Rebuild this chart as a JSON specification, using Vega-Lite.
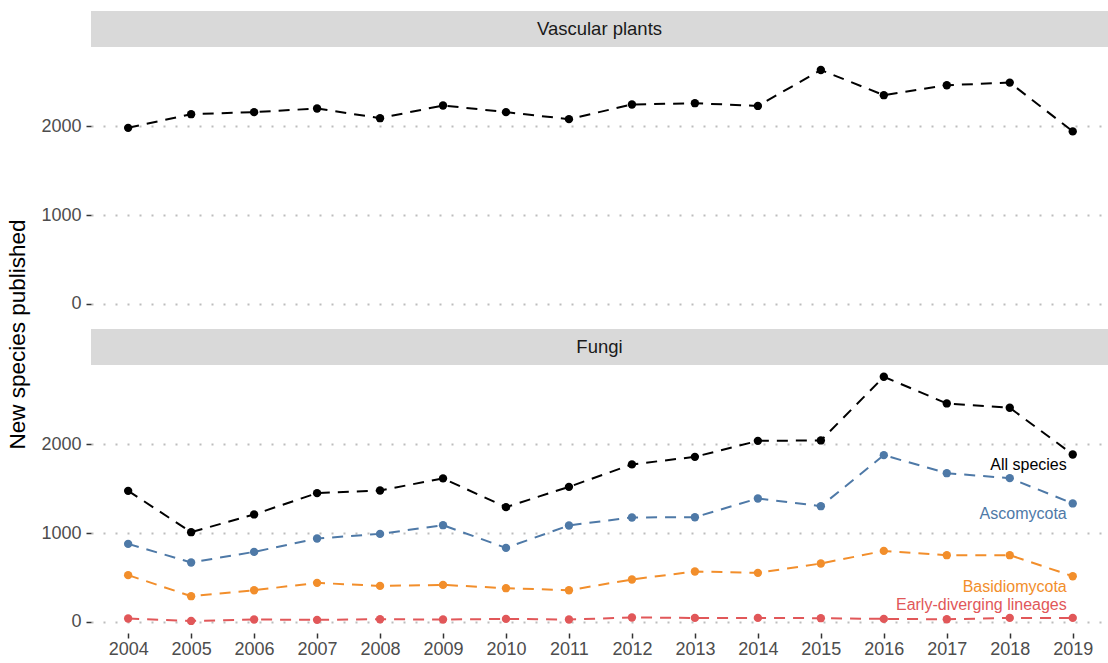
{
  "$schema": "https://vega.github.io/schema/vega-lite/v6.json",
  "padding": {"left": 7, "top": 11, "right": 0, "bottom": 0},
  "background": "white",
  "config": {
    "font": "Liberation Sans",
    "view": {"stroke": null},
    "axis": {"labelFont": "Liberation Sans"}
  },
  "title": {"text": "New species published", "orient": "left", "anchor": "middle", "fontSize": 22.5, "fontWeight": "normal", "color": "#000000", "font": "Liberation Sans", "offset": 11},
  "data": {"values": [
    {"panel": "Vascular plants", "series": "All species", "year": 2004, "value": 1984},
    {"panel": "Vascular plants", "series": "All species", "year": 2005, "value": 2138},
    {"panel": "Vascular plants", "series": "All species", "year": 2006, "value": 2161},
    {"panel": "Vascular plants", "series": "All species", "year": 2007, "value": 2202},
    {"panel": "Vascular plants", "series": "All species", "year": 2008, "value": 2093},
    {"panel": "Vascular plants", "series": "All species", "year": 2009, "value": 2236},
    {"panel": "Vascular plants", "series": "All species", "year": 2010, "value": 2161},
    {"panel": "Vascular plants", "series": "All species", "year": 2011, "value": 2082},
    {"panel": "Vascular plants", "series": "All species", "year": 2012, "value": 2247},
    {"panel": "Vascular plants", "series": "All species", "year": 2013, "value": 2262},
    {"panel": "Vascular plants", "series": "All species", "year": 2014, "value": 2231},
    {"panel": "Vascular plants", "series": "All species", "year": 2015, "value": 2636},
    {"panel": "Vascular plants", "series": "All species", "year": 2016, "value": 2352},
    {"panel": "Vascular plants", "series": "All species", "year": 2017, "value": 2464},
    {"panel": "Vascular plants", "series": "All species", "year": 2018, "value": 2494},
    {"panel": "Vascular plants", "series": "All species", "year": 2019, "value": 1944},
    {"panel": "Fungi", "series": "All species", "year": 2004, "value": 1477},
    {"panel": "Fungi", "series": "All species", "year": 2005, "value": 1011},
    {"panel": "Fungi", "series": "All species", "year": 2006, "value": 1211},
    {"panel": "Fungi", "series": "All species", "year": 2007, "value": 1451},
    {"panel": "Fungi", "series": "All species", "year": 2008, "value": 1481},
    {"panel": "Fungi", "series": "All species", "year": 2009, "value": 1617},
    {"panel": "Fungi", "series": "All species", "year": 2010, "value": 1293},
    {"panel": "Fungi", "series": "All species", "year": 2011, "value": 1522},
    {"panel": "Fungi", "series": "All species", "year": 2012, "value": 1775},
    {"panel": "Fungi", "series": "All species", "year": 2013, "value": 1860},
    {"panel": "Fungi", "series": "All species", "year": 2014, "value": 2040},
    {"panel": "Fungi", "series": "All species", "year": 2015, "value": 2045},
    {"panel": "Fungi", "series": "All species", "year": 2016, "value": 2762},
    {"panel": "Fungi", "series": "All species", "year": 2017, "value": 2462},
    {"panel": "Fungi", "series": "All species", "year": 2018, "value": 2413},
    {"panel": "Fungi", "series": "All species", "year": 2019, "value": 1887},
    {"panel": "Fungi", "series": "Ascomycota", "year": 2004, "value": 879},
    {"panel": "Fungi", "series": "Ascomycota", "year": 2005, "value": 670},
    {"panel": "Fungi", "series": "Ascomycota", "year": 2006, "value": 789},
    {"panel": "Fungi", "series": "Ascomycota", "year": 2007, "value": 940},
    {"panel": "Fungi", "series": "Ascomycota", "year": 2008, "value": 992},
    {"panel": "Fungi", "series": "Ascomycota", "year": 2009, "value": 1090},
    {"panel": "Fungi", "series": "Ascomycota", "year": 2010, "value": 834},
    {"panel": "Fungi", "series": "Ascomycota", "year": 2011, "value": 1087},
    {"panel": "Fungi", "series": "Ascomycota", "year": 2012, "value": 1177},
    {"panel": "Fungi", "series": "Ascomycota", "year": 2013, "value": 1180},
    {"panel": "Fungi", "series": "Ascomycota", "year": 2014, "value": 1391},
    {"panel": "Fungi", "series": "Ascomycota", "year": 2015, "value": 1304},
    {"panel": "Fungi", "series": "Ascomycota", "year": 2016, "value": 1879},
    {"panel": "Fungi", "series": "Ascomycota", "year": 2017, "value": 1676},
    {"panel": "Fungi", "series": "Ascomycota", "year": 2018, "value": 1620},
    {"panel": "Fungi", "series": "Ascomycota", "year": 2019, "value": 1335},
    {"panel": "Fungi", "series": "Basidiomycota", "year": 2004, "value": 527},
    {"panel": "Fungi", "series": "Basidiomycota", "year": 2005, "value": 290},
    {"panel": "Fungi", "series": "Basidiomycota", "year": 2006, "value": 357},
    {"panel": "Fungi", "series": "Basidiomycota", "year": 2007, "value": 440},
    {"panel": "Fungi", "series": "Basidiomycota", "year": 2008, "value": 406},
    {"panel": "Fungi", "series": "Basidiomycota", "year": 2009, "value": 417},
    {"panel": "Fungi", "series": "Basidiomycota", "year": 2010, "value": 380},
    {"panel": "Fungi", "series": "Basidiomycota", "year": 2011, "value": 357},
    {"panel": "Fungi", "series": "Basidiomycota", "year": 2012, "value": 478},
    {"panel": "Fungi", "series": "Basidiomycota", "year": 2013, "value": 568},
    {"panel": "Fungi", "series": "Basidiomycota", "year": 2014, "value": 553},
    {"panel": "Fungi", "series": "Basidiomycota", "year": 2015, "value": 658},
    {"panel": "Fungi", "series": "Basidiomycota", "year": 2016, "value": 800},
    {"panel": "Fungi", "series": "Basidiomycota", "year": 2017, "value": 752},
    {"panel": "Fungi", "series": "Basidiomycota", "year": 2018, "value": 752},
    {"panel": "Fungi", "series": "Basidiomycota", "year": 2019, "value": 515},
    {"panel": "Fungi", "series": "Early-diverging lineages", "year": 2004, "value": 38},
    {"panel": "Fungi", "series": "Early-diverging lineages", "year": 2005, "value": 11},
    {"panel": "Fungi", "series": "Early-diverging lineages", "year": 2006, "value": 27},
    {"panel": "Fungi", "series": "Early-diverging lineages", "year": 2007, "value": 23},
    {"panel": "Fungi", "series": "Early-diverging lineages", "year": 2008, "value": 30},
    {"panel": "Fungi", "series": "Early-diverging lineages", "year": 2009, "value": 27},
    {"panel": "Fungi", "series": "Early-diverging lineages", "year": 2010, "value": 34},
    {"panel": "Fungi", "series": "Early-diverging lineages", "year": 2011, "value": 27},
    {"panel": "Fungi", "series": "Early-diverging lineages", "year": 2012, "value": 50},
    {"panel": "Fungi", "series": "Early-diverging lineages", "year": 2013, "value": 45},
    {"panel": "Fungi", "series": "Early-diverging lineages", "year": 2014, "value": 45},
    {"panel": "Fungi", "series": "Early-diverging lineages", "year": 2015, "value": 42},
    {"panel": "Fungi", "series": "Early-diverging lineages", "year": 2016, "value": 34},
    {"panel": "Fungi", "series": "Early-diverging lineages", "year": 2017, "value": 30},
    {"panel": "Fungi", "series": "Early-diverging lineages", "year": 2018, "value": 45},
    {"panel": "Fungi", "series": "Early-diverging lineages", "year": 2019, "value": 45}
  ]},
  "spacing": 14,
  "vconcat": [
    {
      "spacing": 0,
      "vconcat": [
        {
          "width": 1017, "height": 36,
          "view": {"fill": "#D9D9D9", "stroke": null},
          "data": {"values": [{"label": "Vascular plants"}]},
          "mark": {"type": "text", "fontSize": 18.5, "color": "#1A1A1A", "font": "Liberation Sans", "baseline": "middle", "align": "center"},
          "encoding": {"text": {"field": "label"}}
        },
        {
          "width": 1017, "height": 268,
          "transform": [{"filter": "datum.panel === 'Vascular plants'"}],
          "encoding": {
            "x": {"field": "year", "type": "quantitative", "scale": {"domain": [2003.41, 2019.56], "nice": false, "zero": false}, "axis": null},
            "y": {"field": "value", "type": "quantitative", "scale": {"domain": [-125, 2895], "nice": false, "zero": false},
                  "axis": {"title": null, "values": [0, 1000, 2000], "format": "d", "domain": false, "grid": true, "gridDash": [2, 10], "gridColor": "#BDBDBD", "gridWidth": 2, "tickColor": "#333333", "tickSize": 5, "tickWidth": 1.5, "labelFontSize": 18, "labelColor": "#4D4D4D", "labelPadding": 5}},
            "color": {"field": "series", "type": "nominal", "legend": null,
                      "scale": {"domain": ["All species", "Ascomycota", "Basidiomycota", "Early-diverging lineages"], "range": ["#000000", "#4E79A7", "#F28E2B", "#E15759"]}}
          },
          "layer": [
            {"mark": {"type": "line", "strokeDash": [11, 8], "strokeWidth": 2}},
            {"mark": {"type": "point", "filled": true, "opacity": 1, "size": 70}}
          ]
        }
      ]
    },
    {
      "spacing": 0,
      "vconcat": [
        {
          "width": 1017, "height": 36,
          "view": {"fill": "#D9D9D9", "stroke": null},
          "data": {"values": [{"label": "Fungi"}]},
          "mark": {"type": "text", "fontSize": 18.5, "color": "#1A1A1A", "font": "Liberation Sans", "baseline": "middle", "align": "center"},
          "encoding": {"text": {"field": "label"}}
        },
        {
          "width": 1017, "height": 268,
          "transform": [{"filter": "datum.panel === 'Fungi'"}],
          "encoding": {
            "x": {"field": "year", "type": "quantitative", "scale": {"domain": [2003.41, 2019.56], "nice": false, "zero": false},
                  "axis": {"title": null, "values": [2004, 2005, 2006, 2007, 2008, 2009, 2010, 2011, 2012, 2013, 2014, 2015, 2016, 2017, 2018, 2019], "format": "d", "domain": false, "grid": false, "tickColor": "#333333", "tickSize": 5, "tickWidth": 1.5, "labelFontSize": 18, "labelColor": "#4D4D4D", "labelPadding": 2}},
            "y": {"field": "value", "type": "quantitative", "scale": {"domain": [-125, 2895], "nice": false, "zero": false},
                  "axis": {"title": null, "values": [0, 1000, 2000], "format": "d", "domain": false, "grid": true, "gridDash": [2, 10], "gridColor": "#BDBDBD", "gridWidth": 2, "tickColor": "#333333", "tickSize": 5, "tickWidth": 1.5, "labelFontSize": 18, "labelColor": "#4D4D4D", "labelPadding": 5}},
            "color": {"field": "series", "type": "nominal", "legend": null,
                      "scale": {"domain": ["All species", "Ascomycota", "Basidiomycota", "Early-diverging lineages"], "range": ["#000000", "#4E79A7", "#F28E2B", "#E15759"]}}
          },
          "layer": [
            {"mark": {"type": "line", "strokeDash": [11, 8], "strokeWidth": 2}},
            {"mark": {"type": "point", "filled": true, "opacity": 1, "size": 70}},
            {"transform": [{"filter": "datum.year === 2019 && datum.series !== 'Early-diverging lineages'"}],
             "mark": {"type": "text", "align": "right", "baseline": "middle", "dx": -6, "dy": 11, "fontSize": 16, "font": "Liberation Sans"},
             "encoding": {"text": {"field": "series"}}},
            {"transform": [{"filter": "datum.year === 2019 && datum.series === 'Early-diverging lineages'"}],
             "mark": {"type": "text", "align": "right", "baseline": "middle", "dx": -6, "dy": -13, "fontSize": 16, "font": "Liberation Sans"},
             "encoding": {"text": {"field": "series"}}}
          ]
        }
      ]
    }
  ]
}
